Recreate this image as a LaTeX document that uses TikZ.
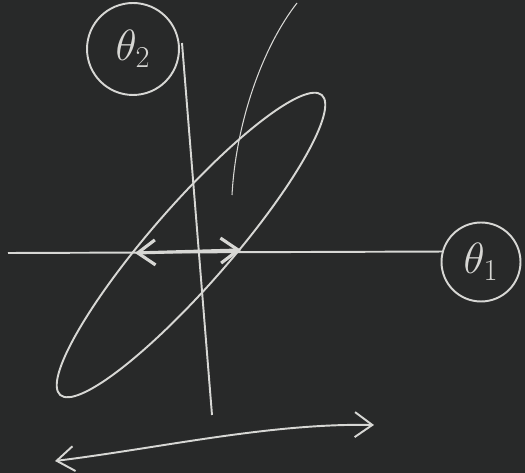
\documentclass[tikz,border=0pt]{standalone}
\usepackage{amsmath}
\usetikzlibrary{arrows.meta}
\definecolor{board}{RGB}{40,41,41}
\definecolor{chalk}{RGB}{215,215,212}
\begin{document}
\begin{tikzpicture}[x=.02cm,y=.02cm,line width=1.1pt,draw=chalk,
  chalkarrow/.style={{Straight Barb[length=3.5mm,width=5mm]}-{Straight Barb[length=3.5mm,width=5mm]}},
  label/.style={circle,draw=chalk,text=chalk,inner sep=0pt,font=\fontsize{27}{30}\selectfont}]
\fill[board] (0,0) rectangle (525,473);
\useasboundingbox (0,0) rectangle (525,473);
\node[label,minimum size=1.84cm] (theta2) at (133,424) {$\theta_2$};
\node[label,minimum size=1.58cm] (theta1) at (481,211) {$\theta_1$};
\coordinate (ytop) at (182,430);
\coordinate (ybot) at (212,58);
\coordinate (xleft) at (8,220);
\coordinate (a) at (135,220);
\coordinate (b) at (241,223);
\coordinate (c) at (55,12);
\coordinate (d) at (374,48);
\coordinate (s) at (297,470);
\coordinate (t) at (232,278);
\draw[chalk] (ytop)--(ybot);
\draw[chalk] (xleft)--(theta1.165);
\draw[chalk] (191,228) ellipse[x radius=199,y radius=40,rotate=48.9];
\draw[chalk,line width=1.8pt,chalkarrow] (a)--(b);
\draw[chalk,line width=.6pt] (s)..controls (262,425) and (236,350)..(t);
\draw[chalk,chalkarrow] (c)..controls (160,25) and (270,50)..(d);
\end{tikzpicture}
\end{document}
